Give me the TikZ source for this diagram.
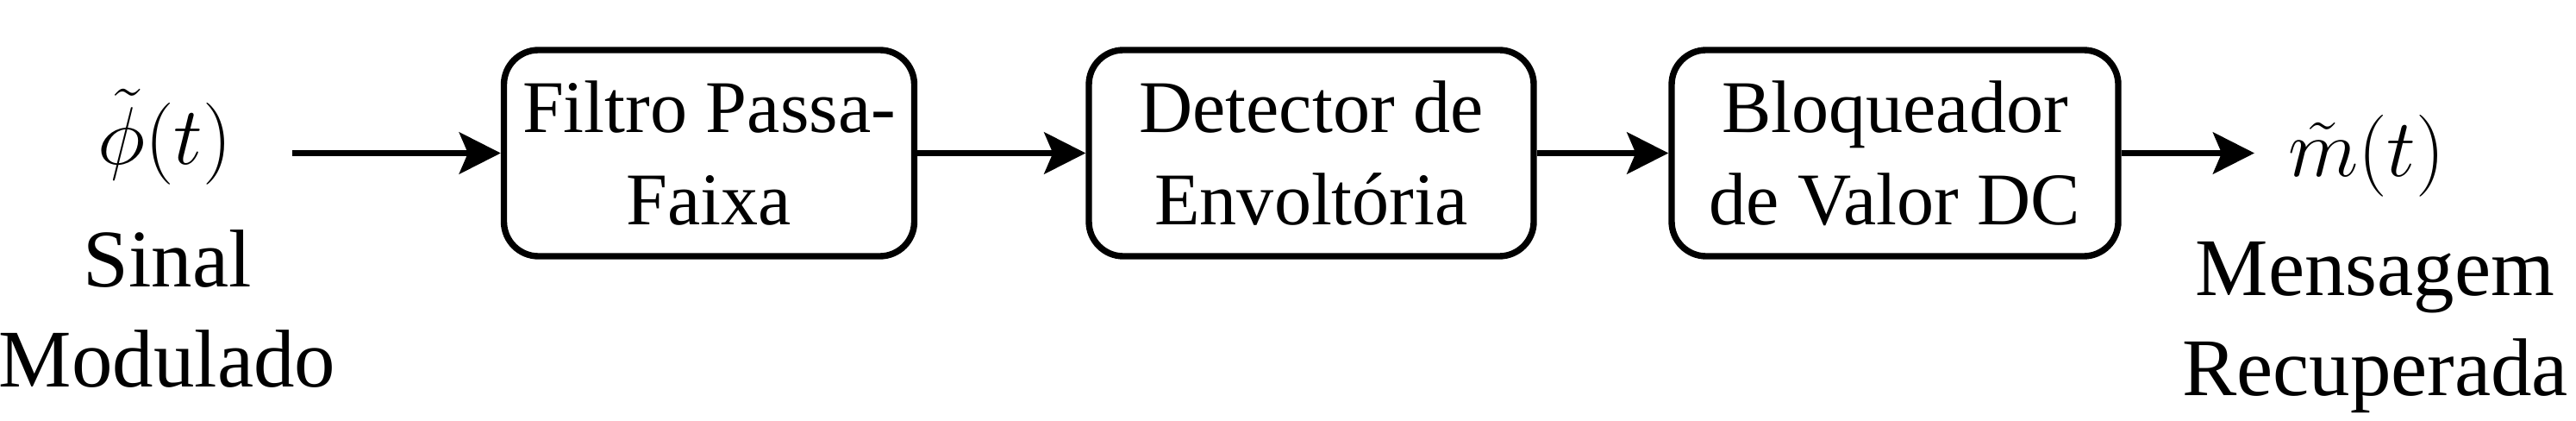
\RequirePackage{fix-cm}
\documentclass[tikz,border=0pt]{standalone}
\usepackage{amsmath}
\usepackage{fontspec}
\setmainfont{LiberationSerif}[Extension = .ttf, UprightFont = *-Regular, BoldFont = *-Bold,
    ItalicFont = *-Italic, BoldItalicFont = *-BoldItalic]
\usepackage{tikz}
\usetikzlibrary{arrows.meta}
\usetikzlibrary{positioning}
\tikzset{block/.style = {draw, rounded corners = 0.4cm, line width = 2.1pt, inner sep = 0,
    minimum height = 2.39cm, align = center, font = \fontsize{24.5pt}{30.5pt}\selectfont}}
\tikzset{rotulo/.style = {inner sep = 0, align = center, font = \fontsize{27pt}{33pt}\selectfont}}
\tikzset{seta/.style = {line width = 2.1pt, -{Stealth[length = 0.48cm, width = 0.48cm, inset = 0.1cm]}}}

\begin{document}
\begin{tikzpicture}
      \useasboundingbox (0, 0) rectangle (29.88, -4.88);

      \node [block, minimum width = 4.76cm] (filtro) at (8.225, -1.775) {Filtro Passa-\\Faixa};
      \node [block, minimum width = 5.16cm] (detector) at (15.21, -1.775) {Detector de\\Envoltória};
      \node [block, minimum width = 5.18cm] (bloqueador) at (21.98, -1.775) {Bloqueador\\de Valor DC};

      \node [rotulo, anchor = base] (phi) at (1.91, -1.91) {$\tilde{\phi}(t)$};
      \node [rotulo, anchor = north] (sinal) at (1.94, -2.66) {Sinal\\Modulado};

      \node [rotulo, anchor = base] (msg) at (27.45, -2.05) {$\tilde{m}(t)$};
      \node [rotulo, anchor = north] (mensagem) at (27.55, -2.80) {Mensagem\\Recuperada};

      \coordinate (entrada) at (3.39, -1.775);
      \coordinate (saida) at (26.15, -1.775);

      \draw [seta] (entrada) -- (filtro);
      \draw [seta] (filtro) -- (detector);
      \draw [seta] (detector) -- (bloqueador);
      \draw [seta] (bloqueador) -- (saida);
    \end{tikzpicture}
\end{document}
